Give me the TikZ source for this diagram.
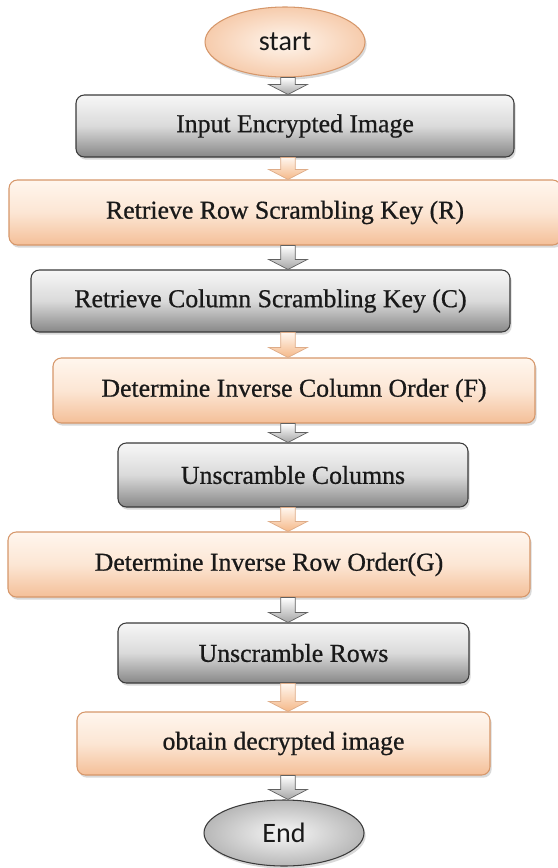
\documentclass[tikz,border=0pt]{standalone}
\usepackage{fontspec}
\setmainfont{Liberation Serif}
\newfontfamily\boxfont[FakeBold=0.7]{Liberation Serif}
\newfontfamily\termfont{Carlito}
\usetikzlibrary{shapes.geometric,shadows,calc}
\definecolor{peachtop}{HTML}{FFF6EE}
\definecolor{peachmid}{HTML}{FCE6D4}
\definecolor{peachbot}{HTML}{F4BF98}
\definecolor{peachline}{HTML}{D6976A}
\definecolor{greytop}{HTML}{F7F7F7}
\definecolor{greymid}{HTML}{DADADA}
\definecolor{greybot}{HTML}{878787}
\definecolor{greyline}{HTML}{3A3A3A}
\begin{document}
\begin{tikzpicture}[
    box/.style={rectangle, rounded corners=0.25cm, line width=0.9pt, inner sep=0pt,
      font=\boxfont\fontsize{22}{26}\selectfont, text=black!90,
      drop shadow={shadow xshift=0.05cm, shadow yshift=-0.08cm, opacity=0.3}},
    greybox/.style={box, draw=greyline, top color=greytop, bottom color=greybot, middle color=greymid},
    peachbox/.style={box, draw=peachline, top color=peachtop, bottom color=peachbot, middle color=peachmid},
    term/.style={ellipse, line width=0.9pt, inner sep=0pt, minimum width=4.8cm,
      font=\termfont\fontsize{24}{28}\selectfont, text=black!90,
      drop shadow={shadow xshift=0.05cm, shadow yshift=-0.08cm, opacity=0.3}},
    flow/.style={line width=0.6pt, to path={let \p1=(\tikztostart), \p2=(\tikztotarget) in
      (\x1-0.22cm,\y1) -- (\x1+0.22cm,\y1) -- (\x1+0.22cm,\y2+0.3cm) -- (\x1+0.58cm,\y2+0.3cm)
      -- (\x1,\y2) -- (\x1-0.58cm,\y2+0.3cm) -- (\x1-0.22cm,\y2+0.3cm) -- cycle}},
    flowgrey/.style={flow, draw=greyline!80, top color=white, bottom color=black!35},
    flowpeach/.style={flow, draw=peachline!80, top color=peachtop, bottom color=peachbot!90!orange}
  ]
    \useasboundingbox (0,0) rectangle (16.71,-26.04);
    %% terminals
    \node[term, draw=peachline, inner color=peachtop, outer color=peachbot!80!white,
      minimum height=2.1cm] (start) at (8.55,-1.26) {start};
    \node[term, draw=greyline, inner color=greytop, outer color=black!28,
      minimum height=1.98cm] (end) at (8.52,-24.99) {End};
    %% steps
    \node[greybox, minimum width=13.14cm, minimum height=1.86cm] (input) at (8.85,-3.78) {Input Encrypted Image};
    \node[peachbox, minimum width=16.56cm, minimum height=1.95cm] (rowkey) at (8.55,-6.375) {Retrieve Row Scrambling Key (R)};
    \node[greybox, minimum width=14.37cm, minimum height=1.86cm] (colkey) at (8.115,-9.03) {Retrieve Column Scrambling Key (C)};
    \node[peachbox, minimum width=14.46cm, minimum height=1.95cm] (invcol) at (8.82,-11.715) {Determine Inverse Column Order (F)};
    \node[greybox, minimum width=10.5cm, minimum height=1.92cm] (uncol) at (8.79,-14.25) {Unscramble Columns};
    \node[peachbox, minimum width=15.66cm, minimum height=1.95cm] (invrow) at (8.07,-16.935) {Determine Inverse Row Order(G)};
    \node[greybox, minimum width=10.53cm, minimum height=1.8cm] (unrow) at (8.805,-19.59) {Unscramble Rows};
    \node[peachbox, minimum width=12.39cm, minimum height=1.89cm] (result) at (8.505,-22.305) {obtain decrypted image};
    %% arrows
    \coordinate (ax) at (8.64,0);
    \path[flowgrey] (start.south -| ax) to (input.north -| ax);
    \path[flowpeach] (input.south -| ax) to (rowkey.north -| ax);
    \path[flowgrey] (rowkey.south -| ax) to (colkey.north -| ax);
    \path[flowpeach] (colkey.south -| ax) to (invcol.north -| ax);
    \path[flowgrey] (invcol.south -| ax) to (uncol.north -| ax);
    \path[flowpeach] (uncol.south -| ax) to (invrow.north -| ax);
    \path[flowgrey] (invrow.south -| ax) to (unrow.north -| ax);
    \path[flowpeach] (unrow.south -| ax) to (result.north -| ax);
    \path[flowgrey] (result.south -| ax) to (end.north -| ax);
\end{tikzpicture}
\end{document}
